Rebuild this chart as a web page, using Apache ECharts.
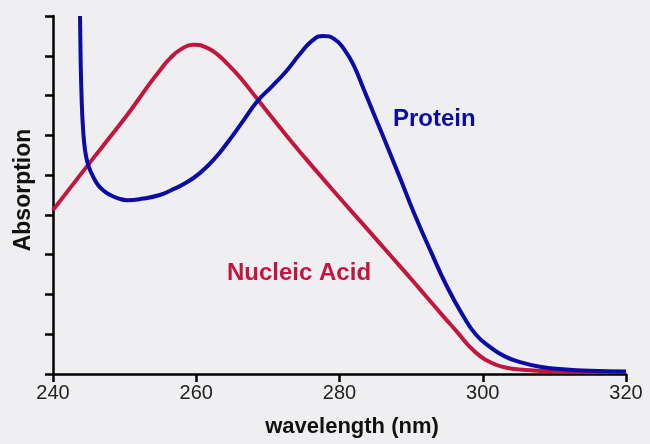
<!DOCTYPE html>
<html>
<head>
<meta charset="utf-8">
<script src="https://cdn.jsdelivr.net/npm/echarts@6/dist/echarts.min.js"></script>
<style>
html,body{margin:0;padding:0;background:#efeff1;}
#chart{width:650px;height:444px;}
</style>
</head>
<body>
<div id="chart"></div>
<script>
const xTicks = [240, 260, 280, 300, 320];
const proteinX = [243.77,243.85,244.0,244.2,244.47,244.8,245.17,246.1,247,248,249.2,250.3,252.6,254.9,256.5,258.5,260.5,262.5,264.5,266.5,268.5,270.5,272.5,274.5,276.2,277.7,279.3,280.7,282,283.4,285,286.6,288.4,290.4,292.7,295,297.3,299,301,303,305.2,308,311.2,315,320];
const proteinY = [9.0,8.0,6.9,6.15,5.63,5.33,5.13,4.8,4.62,4.5,4.41,4.37,4.41,4.5,4.62,4.8,5.05,5.4,5.85,6.35,6.85,7.22,7.6,8.05,8.38,8.5,8.42,8.15,7.75,7.15,6.45,5.75,4.95,4.05,3.1,2.2,1.45,1.0,0.68,0.45,0.3,0.18,0.12,0.08,0.06];
const nucleicX = [240,244,247,250.3,252,253.5,255,256.3,258,259.6,261.3,262.9,264.5,266.1,268.45,270.8,273.1,275.4,277.75,280.5,283.3,285.7,288,290.1,292.2,294.5,296.5,298,299.5,301,303,306,310,315,320];
const nucleicY = [4.12,5.05,5.74,6.5,6.92,7.3,7.65,7.93,8.18,8.28,8.22,8.04,7.77,7.46,6.93,6.4,5.88,5.39,4.9,4.33,3.76,3.27,2.8,2.37,1.93,1.45,1.04,0.72,0.47,0.3,0.17,0.1,0.06,0.05,0.05];

const pair = (xs, ys) => xs.map((x, i) => [x, ys[i]]);
const FONT = 'Liberation Sans, Arial, sans-serif';
const RED = '#c2163e';
const BLUE = '#0b0ba6';
const chart = echarts.init(document.getElementById('chart'));
chart.setOption({
  backgroundColor: '#efeff1',
  animation: false,
  grid: {left: 53, right: 24, top: 16, bottom: 70},
  xAxis: {
    type: 'value', min: xTicks[0], max: xTicks[xTicks.length - 1], interval: 20,
    axisLine: {lineStyle: {color: '#000', width: 2.5}},
    axisTick: {length: 8, lineStyle: {color: '#000', width: 2.5}},
    axisLabel: {fontFamily: FONT, fontSize: 20, color: '#222', margin: 9},
    splitLine: {show: false}
  },
  yAxis: {
    type: 'value', min: 0, max: 9, interval: 1,
    axisLine: {show: true, lineStyle: {color: '#000', width: 2.5}},
    axisTick: {show: true, length: 8, lineStyle: {color: '#000', width: 2.5}},
    axisLabel: {show: false},
    splitLine: {show: false}
  },
  series: [
    {type: 'line', name: 'Nucleic Acid', data: pair(nucleicX, nucleicY), smooth: 0.5, symbol: 'none',
     lineStyle: {color: RED, width: 4}, z: 2},
    {type: 'line', name: 'Protein', data: pair(proteinX, proteinY), smooth: 0.5, symbol: 'none',
     lineStyle: {color: BLUE, width: 4}, z: 3}
  ],
  graphic: [
    {type: 'text', left: 393, top: 107, style: {text: 'Protein', fontFamily: FONT, fontSize: 24, fontWeight: 'bold', fill: BLUE}},
    {type: 'text', left: 227, top: 261, style: {text: 'Nucleic Acid', fontFamily: FONT, fontSize: 24, fontWeight: 'bold', fill: RED}},
    {type: 'text', x: 352, y: 427, style: {text: 'wavelength (nm)', fontFamily: FONT, fontSize: 22, fontWeight: 'bold', fill: '#111', align: 'center', verticalAlign: 'middle'}},
    {type: 'text', x: 24, y: 190, rotation: Math.PI / 2, style: {text: 'Absorption', fontFamily: FONT, fontSize: 23, fontWeight: 'bold', fill: '#111', align: 'center', verticalAlign: 'middle'}}
  ]
});
</script>
</body>
</html>
